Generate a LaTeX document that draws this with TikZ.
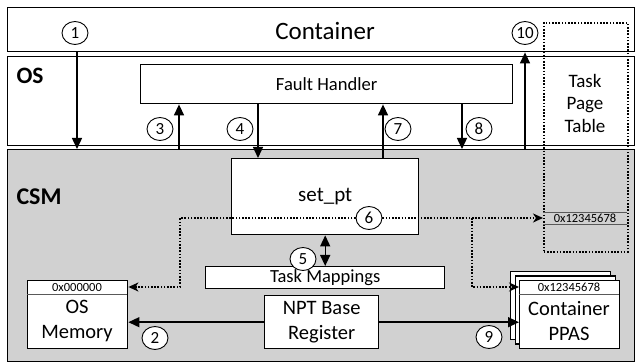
\documentclass[tikz,border=0pt]{standalone}
\usepackage{fontspec}
\setmainfont{Carlito}
\usetikzlibrary{arrows.meta,positioning,shapes.geometric}
\tikzset{>={Triangle[length=11pt,width=10pt]}}
\definecolor{csmgray}{RGB}{209,209,209}
\newcommand{\fsz}[2]{\fontsize{#1}{#2}\selectfont}

\begin{document}
\begin{tikzpicture}[x=1pt,y=-1pt,
              layer/.style={draw, line width=1.4pt, anchor=north west, inner sep=0pt},
              box/.style={draw, fill=white, line width=1.4pt, anchor=north west, inner sep=0pt, align=center},
              num/.style={ellipse, draw, fill=white, line width=0.9pt, inner sep=0pt, minimum width=26pt, minimum height=23pt, font=\fsz{17}{17}},
              arr/.style={line width=1.4pt, ->},
              dotline/.style={line width=1.6pt, dash pattern=on 1.6pt off 1.6pt},
              dotarr/.style={dotline, -{Stealth[length=10pt,width=9pt,inset=3pt]}},
              rowline/.style={line width=0.8pt, black!65},
              hex/.style={font=\fsz{12.5}{13}},
             ]
\useasboundingbox (0,0) rectangle (640,363);

\node[layer, minimum width=627, minimum height=44] (cont) at (7,7) {};
\node[layer, minimum width=627, minimum height=89] (os) at (7,56) {};
\node[layer, fill=csmgray, minimum width=627, minimum height=212] (csm) at (7,149) {};

\node[font=\fsz{25}{25}] (conttxt) at (325,31) {Container};
\node[font=\bfseries\fsz{23.5}{24}, anchor=west] (oslbl) at (13,76) {OS};
\node[font=\bfseries\fsz{24}{24}, anchor=west] (csmlbl) at (13,197) {CSM};

\node[box, minimum width=372, minimum height=39, font=\fsz{18.6}{19}] (fault) at (140,64) {Fault Handler};
\node[box, minimum width=187, minimum height=76, font=\fsz{21}{21}] (setpt) at (231,158) {set\_pt};
\node[box, minimum width=239, minimum height=22, font=\fsz{18.5}{18.5}] (tmap) at (205,266) {Task Mappings};
\node[box, minimum width=114, minimum height=53, font=\fsz{20.5}{25}] (npt) at (264,295) {NPT Base\\Register};

\node[box, minimum width=100, minimum height=68] (osmem) at (27,280) {};
\draw[rowline] (27,294) -- (127,294);
\node[hex] (oshex) at (77,287) {0x000000};
\node[align=center, font=\fsz{20.5}{25}] (osmemtxt) at (77,321) {OS\\Memory};

\node[box, minimum width=100, minimum height=68] (ppas3) at (510,271) {};
\node[box, minimum width=100, minimum height=68] (ppas2) at (514.5,275.5) {};
\node[box, minimum width=100, minimum height=68] (ppas) at (519,280) {};
\draw[rowline] (519,294) -- (619,294);
\node[hex] (ppashex) at (569,287) {0x12345678};
\node[align=center, font=\fsz{20.5}{25}] (ppastxt) at (569,321) {Container\\PPAS};

\node[dotline, draw, anchor=north west, inner sep=0pt, minimum width=84, minimum height=229] (tpt) at (543,22) {};
\node[align=center, font=\fsz{19}{22.5}] (tptlbl) at (585,103) {Task\\Page\\Table};
\draw[rowline] (543,212) -- (627,212);
\draw[rowline] (543,224) -- (627,224);
\node[hex] (tprow) at (585,218) {0x12345678};

\coordinate (c1) at (77,0);
\coordinate (c3) at (179,0);
\coordinate (c4) at (258,0);
\coordinate (c7) at (383,0);
\coordinate (c8) at (462,0);
\coordinate (c10) at (525,0);
\coordinate (d6l) at (180,287);
\coordinate (d6r) at (472,287);

\node[num] (n1) at (75,33) {1};
\node[num] (n2) at (155,338) {2};
\node[num] (n3) at (160,129) {3};
\node[num] (n4) at (240,129) {4};
\node[num] (n5) at (303,259) {5};
\node[num] (n7) at (398,129) {7};
\node[num] (n8) at (479,129) {8};
\node[num] (n9) at (489,337) {9};
\node[num] (n10) at (525,33) {10};

\draw[arr] (cont.south -| c1) -- (csm.north -| c1);
\draw[arr] (csm.north -| c3) -- (fault.south -| c3);
\draw[arr] (fault.south -| c4) -- (setpt.north -| c4);
\draw[arr] (setpt.north -| c7) -- (fault.south -| c7);
\draw[arr] (fault.south -| c8) -- (csm.north -| c8);
\draw[arr] (csm.north -| c10) -- (cont.south -| c10);
\draw[arr, <->] (setpt.south) -- (tmap.north);
\draw[arr] (npt.west) -- (npt.west -| osmem.east);
\draw[arr] (npt.east) -- (npt.east -| ppas.west);

\node[num] (n6) at (369,218) {6};
\draw[dotarr] (n6.west) -| (d6l) -- (d6l -| osmem.east);
\draw[dotarr] (n6.east) -- (n6.east -| tpt.west);
\draw[dotarr] (n6.east -| d6r) -- (d6r) -- (d6r -| ppas.west);
\end{tikzpicture}
\end{document}
